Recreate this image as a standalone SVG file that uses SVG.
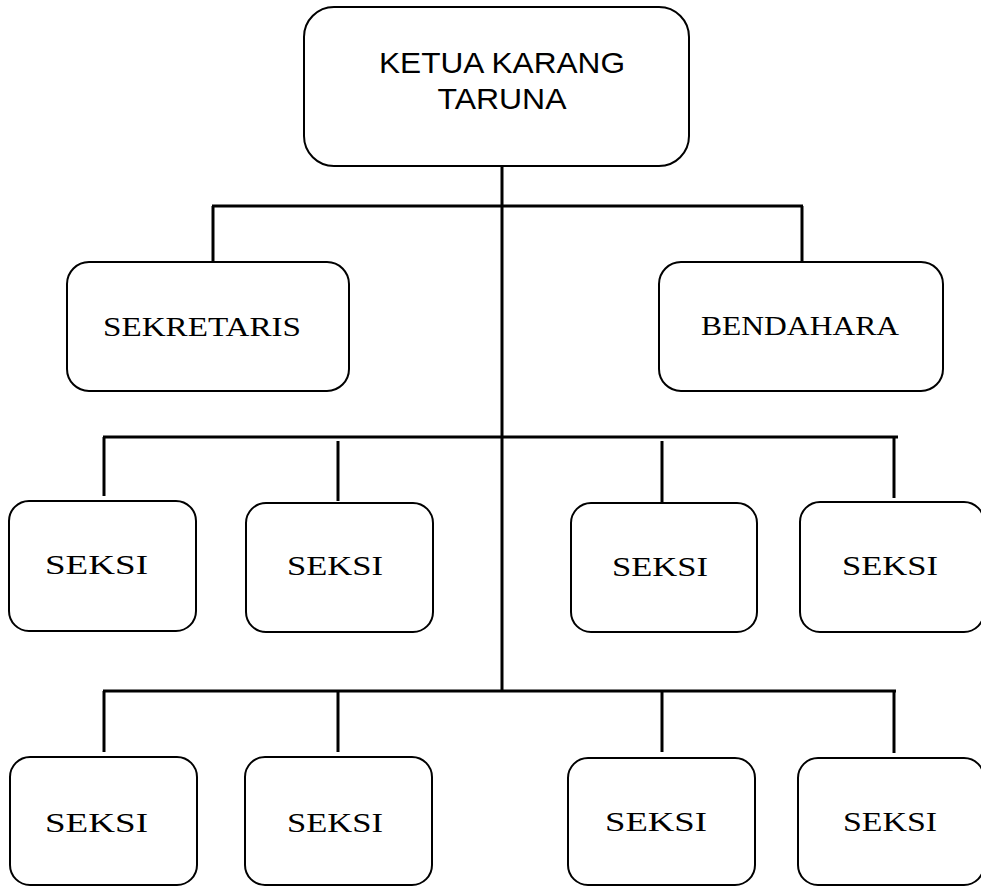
<svg xmlns="http://www.w3.org/2000/svg" width="981" height="887" viewBox="0 0 981 887">
<style>
.box{fill:#fff;stroke:#000;stroke-width:2}
.con{stroke:#000;stroke-width:3;fill:none;stroke-linecap:butt}
.sans{font-family:"Liberation Sans",Arial,sans-serif;font-size:30px;fill:#000;text-anchor:middle}
.serif{font-family:"Liberation Serif","Times New Roman",serif;font-size:27.5px;fill:#000;text-anchor:middle}
</style>
<rect width="981" height="887" fill="#fff"/>
<g id="connectors">
<line class="con" x1="502" y1="166" x2="502" y2="692"/>
<line class="con" x1="212" y1="206" x2="803" y2="206"/>
<line class="con" x1="213" y1="206" x2="213" y2="262"/>
<line class="con" x1="802" y1="206" x2="802" y2="262"/>
<line class="con" x1="103" y1="437" x2="898" y2="437"/>
<line class="con" x1="104" y1="437" x2="104" y2="496"/>
<line class="con" x1="338" y1="441" x2="338" y2="501"/>
<line class="con" x1="662" y1="441" x2="662" y2="502"/>
<line class="con" x1="894" y1="437" x2="894" y2="498"/>
<line class="con" x1="103" y1="691" x2="896" y2="691"/>
<line class="con" x1="104" y1="691" x2="104" y2="752"/>
<line class="con" x1="338" y1="691" x2="338" y2="752"/>
<line class="con" x1="662" y1="691" x2="662" y2="752"/>
<line class="con" x1="894" y1="691" x2="894" y2="753"/>
</g>
<g id="ketua">
<rect class="box" x="304" y="7" width="385" height="159" rx="30" ry="30"/>
<text class="sans" x="502" y="73" textLength="246" lengthAdjust="spacingAndGlyphs">KETUA KARANG</text>
<text class="sans" x="502" y="109" textLength="129" lengthAdjust="spacingAndGlyphs">TARUNA</text>
</g>
<g id="sekretaris">
<rect class="box" x="67" y="262" width="282" height="129" rx="22" ry="22"/>
<text class="serif" x="202" y="336" textLength="198" lengthAdjust="spacingAndGlyphs">SEKRETARIS</text>
</g>
<g id="bendahara">
<rect class="box" x="659" y="262" width="284" height="129" rx="22" ry="22"/>
<text class="serif" x="800" y="335" textLength="198" lengthAdjust="spacingAndGlyphs">BENDAHARA</text>
</g>
<g id="seksi1">
<rect class="box" x="9" y="501" width="187" height="130" rx="20" ry="20"/>
<text class="serif" x="96.5" y="574" textLength="103" lengthAdjust="spacingAndGlyphs">SEKSI</text>
</g>
<g id="seksi2">
<rect class="box" x="246" y="503" width="187" height="129" rx="20" ry="20"/>
<text class="serif" x="335" y="575" textLength="96" lengthAdjust="spacingAndGlyphs">SEKSI</text>
</g>
<g id="seksi3">
<rect class="box" x="571" y="503" width="186" height="129" rx="20" ry="20"/>
<text class="serif" x="660" y="576" textLength="96" lengthAdjust="spacingAndGlyphs">SEKSI</text>
</g>
<g id="seksi4">
<rect class="box" x="800" y="502" width="184" height="130" rx="20" ry="20"/>
<text class="serif" x="890" y="575" textLength="96" lengthAdjust="spacingAndGlyphs">SEKSI</text>
</g>
<g id="seksi5">
<rect class="box" x="10" y="757" width="187" height="128" rx="20" ry="20"/>
<text class="serif" x="96.5" y="832" textLength="103" lengthAdjust="spacingAndGlyphs">SEKSI</text>
</g>
<g id="seksi6">
<rect class="box" x="245" y="757" width="187" height="128" rx="20" ry="20"/>
<text class="serif" x="335" y="832" textLength="96" lengthAdjust="spacingAndGlyphs">SEKSI</text>
</g>
<g id="seksi7">
<rect class="box" x="568" y="758" width="187" height="127" rx="20" ry="20"/>
<text class="serif" x="656" y="831" textLength="102" lengthAdjust="spacingAndGlyphs">SEKSI</text>
</g>
<g id="seksi8">
<rect class="box" x="798" y="758" width="186" height="127" rx="20" ry="20"/>
<text class="serif" x="890" y="831" textLength="94" lengthAdjust="spacingAndGlyphs">SEKSI</text>
</g>
</svg>
